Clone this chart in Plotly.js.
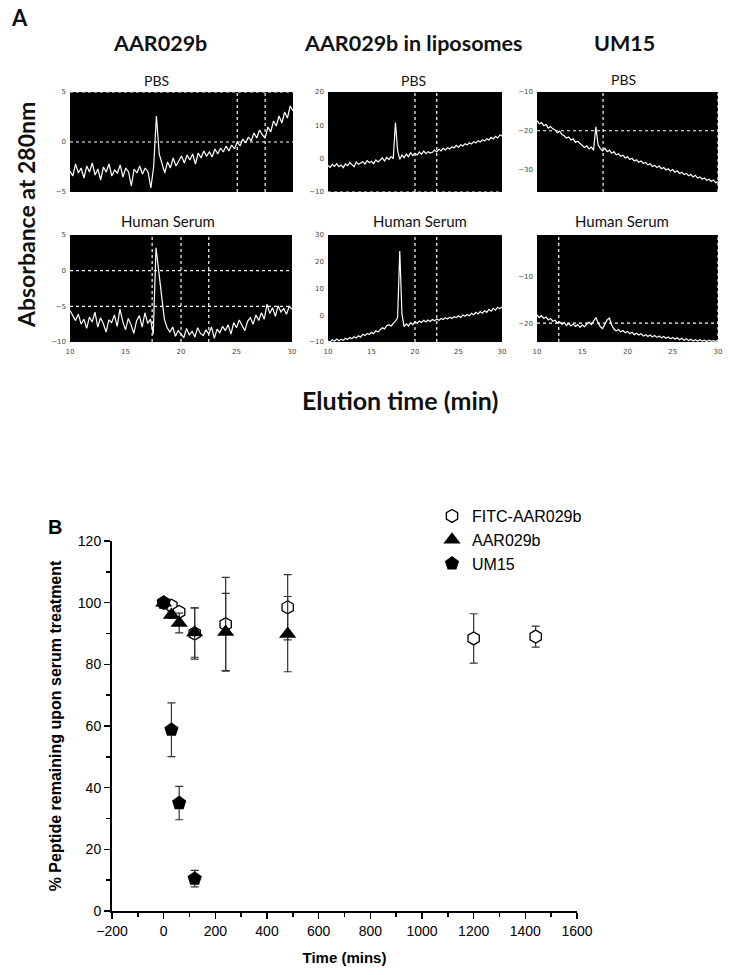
<!DOCTYPE html>
<html>
<head>
<meta charset="utf-8">
<script src="https://cdn.plot.ly/plotly-3.0.1.min.js"></script>
<style>
  body { margin: 0; background: #fff; }
  #fig { width: 729px; height: 975px; }
</style>
</head>
<body>
<div id="fig"></div>
<script>
// ---- Panel A: elution traces (min vs absorbance) ----
const elutionTime = [
  10, 10.25, 10.5, 10.75, 11, 11.25, 11.5, 11.75,
  12, 12.25, 12.5, 12.75, 13, 13.25, 13.5, 13.75,
  14, 14.25, 14.5, 14.75, 15, 15.25, 15.5, 15.75,
  16, 16.25, 16.5, 16.75, 17, 17.25, 17.5, 17.75,
  18, 18.25, 18.5, 18.75, 19, 19.25, 19.5, 19.75,
  20, 20.25, 20.5, 20.75, 21, 21.25, 21.5, 21.75,
  22, 22.25, 22.5, 22.75, 23, 23.25, 23.5, 23.75,
  24, 24.25, 24.5, 24.75, 25, 25.25, 25.5, 25.75,
  26, 26.25, 26.5, 26.75, 27, 27.25, 27.5, 27.75,
  28, 28.25, 28.5, 28.75, 29, 29.25, 29.5, 29.75,
  30
];

const aar029bPBS = [
  -2.9, -3.4, -2.2, -3.1, -2.6, -3.6, -2.4, -3.0,
  -2.1, -3.3, -2.7, -3.8, -2.5, -3.0, -2.2, -3.4,
  -2.8, -3.1, -2.3, -3.5, -2.6, -3.0, -4.4, -2.7,
  -3.1, -2.4, -3.2, -2.6, -3.0, -4.6, -2.5, 2.6,
  -1.2, -2.2, -3.1, -2.0, -2.6, -1.6, -2.4, -1.9,
  -1.4, -2.1, -1.3, -1.8, -1.2, -2.2, -1.1, -1.6,
  -0.9, -1.4, -1.0, -1.5, -0.7, -1.2, -0.6, -1.0,
  -0.4, -0.9, -0.3, -0.7, 0.0, -0.4, 0.3, -0.1,
  0.5, 0.1, 0.9, 0.4, 1.2, 0.7, 0.4, 1.5,
  1.0, 2.1, 1.6, 2.6, 1.9, 3.0, 2.4, 3.6,
  3.1
];

const aar029bSerum = [
  -5.6, -6.4, -7.0, -6.1, -7.5, -6.8, -8.1, -6.5,
  -7.2, -5.8, -7.9, -6.6, -7.4, -8.6, -6.9, -7.3,
  -6.2, -7.8, -5.4, -7.1, -8.3, -6.7, -7.6, -8.8,
  -7.0, -6.3, -7.9, -5.9, -7.4, -6.8, -8.9, 3.2,
  -0.5, -3.5, -6.8, -8.0, -8.6, -7.9, -9.2, -8.4,
  -8.9, -9.4, -8.1, -9.0, -8.5, -9.3, -8.0, -8.8,
  -9.1, -8.3, -8.9, -7.9, -9.5, -8.2, -8.7, -7.8,
  -8.4, -7.6, -8.9, -7.3, -8.0, -6.9, -7.7, -8.4,
  -7.1, -6.6, -7.5, -6.2, -7.0, -5.9, -6.8, -4.7,
  -6.0, -5.2, -6.4, -4.9, -5.8, -5.3, -6.1, -5.0,
  -5.4
];

const liposomePBS = [
  -2.0, -2.6, -1.7, -2.3, -1.5, -2.4, -1.9, -2.7,
  -1.6, -2.1, -1.2, -1.8, -2.4, -1.0, -1.7, -1.3,
  -0.9, -1.6, -0.6, -1.2, -0.8, -1.5, -0.4, -1.0,
  -0.5, 0.2, -0.7, 0.4, -0.3, 0.6, 0.0, 10.8,
  2.5, -0.2, 1.1, 0.3, 1.4, 0.6, 1.8, 0.9,
  1.6, 1.1, 2.0, 1.3, 2.3, 1.5, 2.1, 1.7,
  1.9, 2.6, 2.0, 2.8, 2.3, 3.1, 2.6, 3.3,
  2.9, 3.6, 3.2, 4.0, 3.4, 4.2, 3.8, 4.5,
  4.1, 4.8, 4.4, 5.1, 4.7, 5.4, 5.0, 5.7,
  5.3, 6.0, 5.6, 6.4, 5.9, 6.7, 6.2, 7.1,
  6.8
];

const liposomeSerum = [
  -9.6, -10.0, -9.2, -9.7, -8.9, -9.5, -9.0, -9.4,
  -8.6, -9.1, -8.3, -8.8, -8.0, -8.5, -7.7, -8.2,
  -7.1, -7.6, -6.8, -7.2, -6.4, -6.9, -5.8, -6.3,
  -5.4, -4.7, -5.1, -3.9, -3.5, -4.1, -3.0, -2.2,
  -1.0, 24.0, 0.5, -4.3, -3.2, -4.0, -2.8, -3.5,
  -2.4, -3.0, -2.2, -2.7, -1.9, -2.5, -1.8, -2.3,
  -1.6, -2.1, -1.4, -1.9, -1.2, -1.6, -0.9, -1.4,
  -0.7, -1.2, -0.5, -0.9, -0.2, -0.8, 0.1, -0.4,
  0.3, -0.2, 0.7, 0.2, 1.1, 0.5, 1.4, 0.8,
  1.7, 1.1, 2.2, 1.5, 2.6, 1.9, 3.0, 2.4,
  3.2
];

const um15PBS = [
  -17.4, -18.2, -17.9, -18.7, -18.4, -19.3, -18.9, -19.5,
  -19.8, -20.5, -20.1, -21.0, -21.3, -21.9, -21.6, -22.4,
  -22.1, -23.0, -22.7, -23.4, -23.8, -24.3, -23.9, -24.7,
  -24.2, -25.0, -19.0, -23.6, -24.6, -25.2, -24.5, -25.4,
  -25.0, -25.8, -25.4, -26.2, -25.9, -26.6, -26.3, -27.0,
  -26.7, -27.4, -27.1, -27.8, -27.5, -28.1, -27.8, -28.4,
  -28.2, -28.8, -28.5, -29.2, -28.9, -29.5, -29.1, -29.8,
  -29.5, -30.1, -29.8, -30.4, -30.0, -30.7, -30.3, -31.0,
  -30.7, -31.3, -31.0, -31.6, -31.3, -31.9, -31.5, -32.2,
  -31.9, -32.5, -32.2, -32.8, -32.5, -33.1, -32.7, -33.4,
  -33.2
];

const um15Serum = [
  -18.2, -18.8, -18.4, -19.0, -18.7, -19.3, -19.0, -19.6,
  -19.4, -20.0, -19.7, -20.3, -19.9, -20.5, -20.1, -20.6,
  -20.2, -20.7, -20.3, -20.9, -20.4, -20.8, -20.2, -19.8,
  -20.3, -19.6, -18.8, -19.9, -20.8, -21.2, -20.1, -19.3,
  -18.9, -20.4, -21.3, -21.7, -21.4, -21.9, -21.6, -22.1,
  -21.8, -22.3, -22.0, -22.5, -22.2, -22.6, -22.3, -22.8,
  -22.5, -22.9, -22.6, -23.0, -22.7, -23.1, -22.8, -23.2,
  -22.9, -23.3, -23.0, -23.4, -23.1, -23.5, -23.2, -23.6,
  -23.3, -23.7, -23.4, -23.8, -23.5, -23.9, -23.6, -23.9,
  -23.6, -23.9, -23.7, -24.0, -23.7, -23.95, -23.8, -24.0,
  -23.7
];

// dotted guide lines drawn in each chromatogram (minutes / absorbance)
const guideX = [[25, 27.5], [20, 22.5], [17.3, 30], [17.4, 20, 22.5], [20, 22.5], [12.4, 30]];
const guideY = [[0, 5], [-10], [-20], [0, -5], [], [-20]];

// ---- Panel B: serum stability ----
const timeFITC = [0, 30, 60, 120, 240, 480, 1200, 1440];
const fitcRemain = [100, 99, 97, 90, 93, 98.5, 88.4, 89];
const fitcErr = [0, 1, 1.2, 8.3, 15.2, 10.6, 8, 3.4];

const timeAAR = [0, 30, 60, 120, 240, 480];
const aarRemain = [100, 96, 93.4, 90.3, 90.5, 89.8];
const aarErr = [0, 1, 3.2, 8, 12.5, 12.2];

const timeUM = [0, 30, 60, 120];
const umRemain = [100, 58.8, 35, 10.5];
const umErr = [0, 8.7, 5.4, 2.7];

const W = 729, H = 975;
const px = v => v / W;
const py = v => 1 - v / H;

const chromData = [aar029bPBS, liposomePBS, um15PBS, aar029bSerum, liposomeSerum, um15Serum];
const xDomains = [[70, 293], [328, 502], [537, 718], [70, 292], [328, 502], [537, 718]];
const yDomains = [[92, 192], [92, 192], [92, 192], [235, 342], [235, 342], [235, 342]];
const yRanges = [[-5, 5], [-10, 20], [-35.8, -10], [-10, 5], [-10, 30], [-24.1, -0.9]];
const yTicks = [[-5, 0, 5], [-10, 0, 10, 20], [-30, -20, -10], [-10, -5, 0, 5], [-10, 0, 10, 20, 30], [-20, -10]];

var data = [];
var layout = {
  width: W, height: H,
  margin: {l: 0, r: 0, t: 0, b: 0},
  paper_bgcolor: '#fff',
  plot_bgcolor: 'rgba(0,0,0,0)',
  font: {family: 'Liberation Sans, Arial', color: '#000'},
  shapes: [],
  annotations: []
};

var smallTick = {family: 'DejaVu Sans', size: 7, color: '#444'};

for (let i = 0; i < 6; i++) {
  const n = i + 1;
  const xa = 'x' + n, ya = 'y' + n;
  data.push({
    x: elutionTime, y: chromData[i],
    xaxis: xa, yaxis: ya,
    mode: 'lines', type: 'scatter',
    line: {color: '#fff', width: 1.2},
    showlegend: false, hoverinfo: 'skip'
  });
  layout['xaxis' + n] = {
    domain: [px(xDomains[i][0]), px(xDomains[i][1])],
    range: [10, 30], anchor: ya,
    showgrid: false, zeroline: false, showline: false,
    ticks: '', tickvals: [10, 15, 20, 25, 30], ticklabelstandoff: 4,
    showticklabels: i >= 3, tickfont: smallTick
  };
  layout['yaxis' + n] = {
    domain: [py(yDomains[i][1]), py(yDomains[i][0])],
    range: yRanges[i], anchor: xa,
    showgrid: false, zeroline: false, showline: false,
    ticks: '', tickvals: yTicks[i], tickfont: smallTick, ticklabelstandoff: 3
  };
  // black plotting area
  layout.shapes.push({
    type: 'rect', xref: xa + ' domain', yref: ya + ' domain',
    x0: 0, x1: 1, y0: 0, y1: 1,
    fillcolor: '#000', line: {width: 0}, layer: 'below'
  });
  for (const gx of guideX[i]) {
    layout.shapes.push({
      type: 'line', xref: xa, yref: ya + ' domain',
      x0: gx, x1: gx, y0: 0, y1: 1,
      line: {color: '#fff', width: 1.2, dash: 'dot'}
    });
  }
  for (const gy of guideY[i]) {
    layout.shapes.push({
      type: 'line', xref: xa + ' domain', yref: ya,
      x0: 0, x1: 1, y0: gy, y1: gy,
      line: {color: '#fff', width: 1.2, dash: 'dot'}
    });
  }
}

// panel B traces
data.push({
  x: timeFITC, y: fitcRemain, name: 'FITC-AAR029b',
  xaxis: 'x7', yaxis: 'y7', mode: 'markers', type: 'scatter',
  marker: {symbol: 'hexagon', size: 13, color: '#fff', line: {color: '#000', width: 1.3}},
  error_y: {type: 'data', array: fitcErr, visible: true, color: '#333', thickness: 1.2, width: 4}
});
data.push({
  x: timeAAR, y: aarRemain, name: 'AAR029b',
  xaxis: 'x7', yaxis: 'y7', mode: 'markers', type: 'scatter',
  marker: {symbol: 'triangle-up', size: 15, color: '#000'},
  error_y: {type: 'data', array: aarErr, visible: true, color: '#333', thickness: 1.2, width: 4}
});
data.push({
  x: timeUM, y: umRemain, name: 'UM15',
  xaxis: 'x7', yaxis: 'y7', mode: 'markers', type: 'scatter',
  marker: {symbol: 'pentagon', size: 15, color: '#000'},
  error_y: {type: 'data', array: umErr, visible: true, color: '#333', thickness: 1.2, width: 4}
});

layout.xaxis7 = {
  domain: [px(112), px(577)], range: [-200, 1600], anchor: 'y7',
  showgrid: false, zeroline: false, showline: true, linecolor: '#000', linewidth: 2,
  ticks: 'outside', ticklen: 6, tickwidth: 1.5, tickcolor: '#000', dtick: 200, tick0: 0,
  minor: {dtick: 100, ticks: 'outside', ticklen: 4, tickwidth: 1.5, tickcolor: '#000'},
  tickfont: {size: 14, family: 'Liberation Sans, Arial'},
  title: {text: '<b>Time (mins)</b>', font: {size: 15}, standoff: 15}
};
layout.yaxis7 = {
  domain: [py(911), py(541)], range: [0, 120], anchor: 'x7',
  showgrid: false, zeroline: false, showline: true, linecolor: '#000', linewidth: 2,
  ticks: 'outside', ticklen: 6, tickwidth: 1.5, tickcolor: '#000', dtick: 20,
  minor: {dtick: 10, ticks: 'outside', ticklen: 4, tickwidth: 1.5, tickcolor: '#000'},
  tickfont: {size: 14, family: 'Liberation Sans, Arial'},
  title: {text: '<b>% Peptide remaining upon serum treatment</b>', font: {size: 16}, standoff: 12}
};

layout.legend = {
  x: px(432), y: py(499), xanchor: 'left', yanchor: 'top',
  font: {size: 16, family: 'Liberation Sans, Arial'},
  bgcolor: 'rgba(0,0,0,0)', tracegroupgap: 0
};

// text labels
const labelFont = 'Lato, Open Sans, sans-serif';
function addText(text, x, y, size, extra) {
  layout.annotations.push(Object.assign({
    text: text, x: px(x), y: py(y), xref: 'paper', yref: 'paper',
    showarrow: false, xanchor: 'center', yanchor: 'middle',
    font: {family: labelFont, size: size, color: '#111'}
  }, extra || {}));
}
addText('<b>A</b>', 19, 18, 22);
addText('<b>AAR029b</b>', 160, 43, 21.5);
addText('<b>AAR029b in liposomes</b>', 413, 43, 21.5);
addText('<b>UM15</b>', 624, 43, 21.5);
addText('PBS', 156, 80, 14);
addText('PBS', 413, 80, 14);
addText('PBS', 623, 79, 14);
addText('Human Serum', 168, 221, 15);
addText('Human Serum', 420, 221, 15);
addText('Human Serum', 622, 221, 15);
addText('<b>Absorbance at 280nm</b>', 26, 215, 23, {textangle: -90});
addText('<b>Elution time (min)</b>', 400, 400, 25);
addText('<b>B</b>', 55, 527, 20, {font: {family: 'Liberation Sans, Arial', size: 20, color: '#000'}});

Plotly.newPlot(document.getElementById('fig'), data, layout, {displayModeBar: false, staticPlot: true});
</script>
</body>
</html>
